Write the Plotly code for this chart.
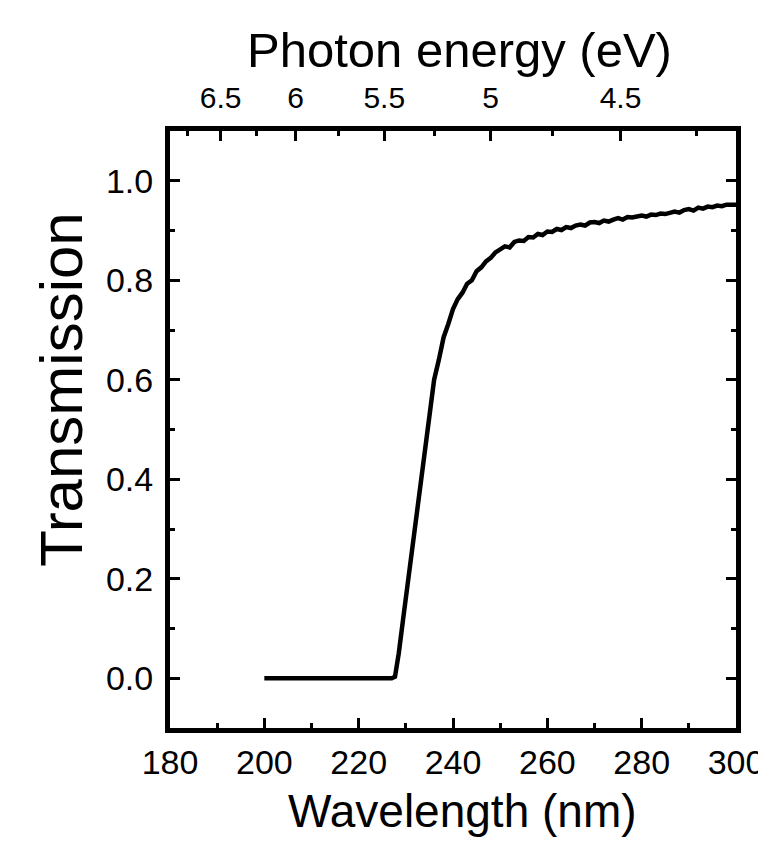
import plotly.graph_objects as go

# Data
wavelength_nm = [200, 205, 210, 215, 220, 225, 227, 227.7, 228.5, 229.4, 230, 231, 232, 233, 234, 235,
                 236, 237, 238, 239, 240, 241, 242, 243, 244, 245, 246, 247, 248, 249, 250,
                 251, 252, 253, 254, 255, 256, 257, 258, 259, 260, 261, 262, 263, 264, 265,
                 266, 267, 268, 269, 270, 271, 272, 273, 274, 275, 276, 277, 278, 279, 280,
                 281, 282, 283, 284, 285, 286, 287, 288, 289, 290, 291, 292, 293, 294, 295,
                 296, 297, 298, 299, 300]
transmission = [0, 0, 0, 0, 0, 0, 0, 0.003, 0.05, 0.117, 0.16, 0.235, 0.31, 0.385, 0.46, 0.53,
                0.60, 0.64, 0.685, 0.712, 0.742, 0.762, 0.775, 0.793, 0.800, 0.818, 0.826, 0.838, 0.845, 0.856, 0.861,
                0.868, 0.866, 0.877, 0.880, 0.879, 0.887, 0.886, 0.893, 0.891, 0.898, 0.897, 0.903, 0.901, 0.907, 0.905,
                0.910, 0.912, 0.910, 0.916, 0.917, 0.915, 0.920, 0.918, 0.922, 0.925, 0.922, 0.927, 0.926, 0.929, 0.930,
                0.928, 0.932, 0.931, 0.934, 0.933, 0.936, 0.938, 0.936, 0.941, 0.943, 0.940, 0.946, 0.944, 0.948, 0.947,
                0.950, 0.949, 0.952, 0.951, 0.952]

x_range = [180, 300]
y_range = [-0.1, 1.1]
y_ticks = [0.0, 0.2, 0.4, 0.6, 0.8, 1.0]
y_minor = [-0.1, 0.1, 0.3, 0.5, 0.7, 0.9, 1.1]
x_ticks = [180, 200, 220, 240, 260, 280, 300]
x_minor = [190, 210, 230, 250, 270, 290]
energy_ticks = [6.5, 6, 5.5, 5, 4.5]
energy_labels = ["6.5", "6", "5.5", "5", "4.5"]
energy_minor = [6.75, 6.25, 5.75, 5.25, 4.75, 4.25]
HC = 1239.84  # eV*nm

x_title = "Wavelength (nm)"
x2_title = "Photon energy (eV)"
y_title = "Transmission"

tick_font = dict(family="Liberation Sans Narrow, Arial Narrow, Liberation Sans, Arial", size=34, color="black")
top_font = dict(family="Liberation Sans Narrow, Arial Narrow, Liberation Sans, Arial", size=30, color="black")
title_family = "Liberation Sans, Arial, Helvetica"

fig = go.Figure()
fig.add_trace(go.Scatter(x=wavelength_nm, y=transmission, mode="lines",
                         line=dict(color="black", width=4.5), showlegend=False, hoverinfo="skip"))

fig.update_layout(
    width=758, height=855,
    margin=dict(l=170, r=22, t=131, b=127, autoexpand=False),
    paper_bgcolor="white", plot_bgcolor="white",
    xaxis=dict(range=x_range, tickvals=x_ticks, ticktext=[str(v) for v in x_ticks],
               ticks="inside", ticklen=10, tickwidth=3, tickcolor="black",
               minor=dict(tickvals=x_minor, ticks="inside", ticklen=5, tickwidth=3, tickcolor="black"),
               showline=True, linewidth=5, linecolor="black", mirror=False,
               showgrid=False, zeroline=False, tickfont=tick_font, ticklabelstandoff=0,
               ticklabeloverflow="allow", automargin=False),
    xaxis2=dict(range=x_range, overlaying="x", side="top",
                tickvals=[HC / e for e in energy_ticks], ticktext=energy_labels,
                ticks="inside", ticklen=10, tickwidth=3, tickcolor="black",
                minor=dict(tickvals=[HC / e for e in energy_minor], ticks="inside", ticklen=5, tickwidth=3, tickcolor="black"),
                showline=True, linewidth=5, linecolor="black",
                showgrid=False, zeroline=False, tickfont=top_font, ticklabelstandoff=6,
                ticklabeloverflow="allow", automargin=False),
    yaxis=dict(range=y_range, tickvals=y_ticks, ticktext=[f"{v:.1f}" for v in y_ticks],
               ticks="inside", ticklen=10, tickwidth=3, tickcolor="black",
               minor=dict(tickvals=y_minor, ticks="inside", ticklen=5, tickwidth=3, tickcolor="black"),
               showline=True, linewidth=5, linecolor="black", mirror="ticks",
               showgrid=False, zeroline=False, tickfont=tick_font, ticklabelstandoff=5,
               automargin=False),
    annotations=[
        dict(text=x_title, xref="paper", yref="paper", x=0.516, y=-0.139, xanchor="center", yanchor="middle",
             showarrow=False, font=dict(family=title_family, size=46, color="black")),
        dict(text=x2_title, xref="paper", yref="paper", x=0.511, y=1.136, xanchor="center", yanchor="middle",
             showarrow=False, font=dict(family=title_family, size=49, color="black")),
        dict(text=y_title, xref="paper", yref="paper", x=-0.191, y=0.568, xanchor="center", yanchor="middle",
             textangle=-90, showarrow=False, font=dict(family=title_family, size=60, color="black")),
    ],
)
# dummy trace to activate the top axis (no visible marks)
fig.add_trace(go.Scatter(x=[None], y=[None], xaxis="x2", showlegend=False, hoverinfo="skip"))

fig.write_html("out.html")
